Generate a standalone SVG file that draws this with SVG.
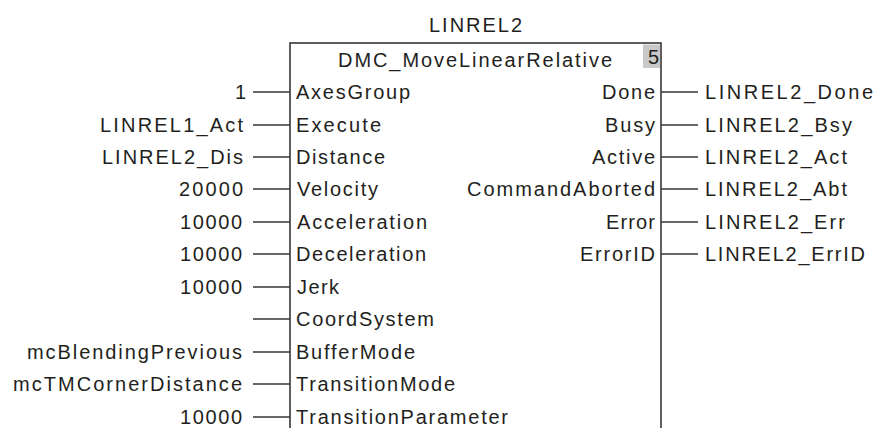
<svg xmlns="http://www.w3.org/2000/svg" width="874" height="428" viewBox="0 0 874 428">
<style>
text{font-family:"Liberation Sans",Arial,sans-serif;font-size:20px;fill:#231f20}
.ln{stroke:#3a3635;stroke-width:1.4;fill:none}
.box{stroke:#3a3635;stroke-width:1.6;fill:#fff}
</style>
<rect width="874" height="428" fill="#fff"/>
<g id="block">
<text x="429" y="32" textLength="93" lengthAdjust="spacing">LINREL2</text>
<rect class="box" x="290" y="43" width="371" height="400"/>
<rect x="643" y="44.5" width="17" height="23.5" fill="#c8c8c8"/>
<text x="648" y="64">5</text>
<text x="338" y="67" textLength="274" lengthAdjust="spacing">DMC_MoveLinearRelative</text>
</g>
<g id="inputs">
<text x="296" y="99" textLength="114" lengthAdjust="spacing">AxesGroup</text>
<text x="296" y="132" textLength="85" lengthAdjust="spacing">Execute</text>
<text x="296" y="164" textLength="89" lengthAdjust="spacing">Distance</text>
<text x="297" y="196" textLength="81" lengthAdjust="spacing">Velocity</text>
<text x="297" y="229" textLength="130" lengthAdjust="spacing">Acceleration</text>
<text x="296" y="261" textLength="130" lengthAdjust="spacing">Deceleration</text>
<text x="297" y="294" textLength="42" lengthAdjust="spacing">Jerk</text>
<text x="296" y="326" textLength="138" lengthAdjust="spacing">CoordSystem</text>
<text x="296" y="359" textLength="119" lengthAdjust="spacing">BufferMode</text>
<text x="296" y="391" textLength="159" lengthAdjust="spacing">TransitionMode</text>
<text x="296" y="424" textLength="212" lengthAdjust="spacing">TransitionParameter</text>
</g>
<g id="outputs">
<text x="602" y="99" textLength="53" lengthAdjust="spacing">Done</text>
<text x="605" y="132" textLength="50" lengthAdjust="spacing">Busy</text>
<text x="592" y="164" textLength="63" lengthAdjust="spacing">Active</text>
<text x="467" y="196" textLength="188" lengthAdjust="spacing">CommandAborted</text>
<text x="606" y="229" textLength="49" lengthAdjust="spacing">Error</text>
<text x="580" y="261" textLength="75" lengthAdjust="spacing">ErrorID</text>
</g>
<g id="input-values">
<text x="235" y="99">1</text>
<text x="100" y="132" textLength="143" lengthAdjust="spacing">LINREL1_Act</text>
<text x="102" y="164" textLength="141" lengthAdjust="spacing">LINREL2_Dis</text>
<text x="179" y="196" textLength="64" lengthAdjust="spacing">20000</text>
<text x="180" y="229" textLength="62" lengthAdjust="spacing">10000</text>
<text x="180" y="261" textLength="62" lengthAdjust="spacing">10000</text>
<text x="180" y="294" textLength="62" lengthAdjust="spacing">10000</text>
<text x="27" y="359" textLength="215" lengthAdjust="spacing">mcBlendingPrevious</text>
<text x="13" y="391" textLength="229" lengthAdjust="spacing">mcTMCornerDistance</text>
<text x="180" y="424" textLength="62" lengthAdjust="spacing">10000</text>
</g>
<g id="output-values">
<text x="705" y="99" textLength="168" lengthAdjust="spacing">LINREL2_Done</text>
<text x="705" y="132" textLength="147" lengthAdjust="spacing">LINREL2_Bsy</text>
<text x="705" y="164" textLength="142" lengthAdjust="spacing">LINREL2_Act</text>
<text x="705" y="196" textLength="142" lengthAdjust="spacing">LINREL2_Abt</text>
<text x="705" y="229" textLength="140" lengthAdjust="spacing">LINREL2_Err</text>
<text x="705" y="261" textLength="160" lengthAdjust="spacing">LINREL2_ErrID</text>
</g>
<g id="connectors">
<path class="ln" d="M253 92H290M253 125H290M253 157H290M253 189H290M253 222H290M253 254H290M253 287H290M253 319H290M253 352H290M253 384H290M253 417H290"/>
<path class="ln" d="M661 92H698M661 125H698M661 157H698M661 189H698M661 222H698M661 254H698"/>
</g>
</svg>
